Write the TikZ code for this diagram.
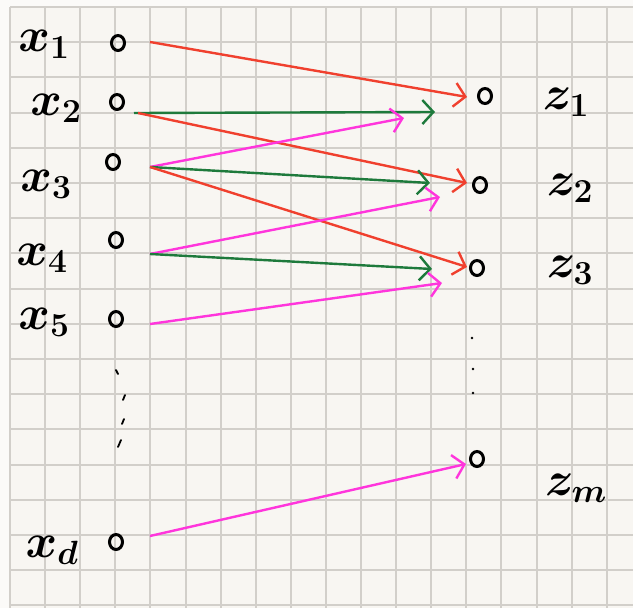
\RequirePackage{fix-cm}
\documentclass[tikz,border=0pt]{standalone}
\usetikzlibrary{arrows.meta,shapes.geometric}
\definecolor{paper}{HTML}{F8F6F2}
\definecolor{margin}{HTML}{FBFAF8}
\definecolor{gridc}{HTML}{D2CFCA}
\definecolor{pred}{HTML}{F0402E}
\definecolor{pgreen}{HTML}{1E7A3C}
\definecolor{pmag}{HTML}{FF35DC}
\begin{document}
\begin{tikzpicture}[x=1pt,y=-1pt,
  unit/.style={ellipse,draw=black,line width=3pt,minimum width=13pt,minimum height=15pt,inner sep=0pt},
  lab/.style={inner sep=0pt,font=\fontsize{48}{54}\selectfont\boldmath},
  gridline/.style={gridc,line width=1.4pt},
  edge/.style={line width=2.4pt,-{Straight Barb[length=11pt,width=24pt,line width=2.4pt]}},
  rededge/.style={edge,pred},
  greenedge/.style={edge,pgreen},
  magedge/.style={edge,pmag},
  dotmark/.style={line width=1.8pt,line cap=round,black}]
\fill[margin] (0,0) rectangle (633,608);
\fill[paper] (10,7) rectangle (633,608);
\useasboundingbox (0,0) rectangle (633,608);
\foreach \k in {0,...,17} {
  \pgfmathsetmacro{\gx}{round(10+35.1*\k)}
  \pgfmathsetmacro{\gy}{round(7+35.2*\k)}
  \draw[gridline] (\gx,7) -- (\gx,608);
  \draw[gridline] (10,\gy) -- (633,\gy);
}
% input units
\node[unit] (x1) at (118,43) {};
\node[unit] (x2) at (117,102) {};
\node[unit] (x3) at (113,162) {};
\node[unit] (x4) at (116,240) {};
\node[unit] (x5) at (116,319) {};
\node[unit] (xd) at (116,542) {};
% output units
\node[unit] (z1) at (485,96) {};
\node[unit] (z2) at (480,185) {};
\node[unit] (z3) at (477,268) {};
\node[unit] (zm) at (477,459) {};
% labels
\node[lab] (lx1) at (44,44) {$x_{1}$};
\node[lab] (lx2) at (56,108) {$x_{2}$};
\node[lab] (lx3) at (46,184) {$x_{3}$};
\node[lab] (lx4) at (42,258) {$x_{4}$};
\node[lab] (lx5) at (44,322) {$x_{5}$};
\node[lab] (lxd) at (52,550) {$x_{d}$};
\node[lab] (lz1) at (566,102) {$z_{1}$};
\node[lab] (lz2) at (570,188) {$z_{2}$};
\node[lab] (lz3) at (570,270) {$z_{3}$};
\node[lab] (lzm) at (576,488) {$z_{m}$};
% ports
\coordinate (x1p) at (150,42);
\coordinate (x2g) at (134,113);
\coordinate (x2r) at (138,113);
\coordinate (x3p) at (150,167);
\coordinate (x4p) at (150,254);
\coordinate (x5p) at (150,324);
\coordinate (xdp) at (150,536);
\coordinate (z1r) at (467,97);
\coordinate (z1g) at (435,112);
\coordinate (z1m) at (404,118);
\coordinate (z2r) at (467,183);
\coordinate (z2g) at (430,183);
\coordinate (z2m) at (440,197);
\coordinate (z3r) at (467,267);
\coordinate (z3g) at (432,269);
\coordinate (z3m) at (442,283);
\coordinate (zmm) at (466,464);
% connectors
\draw[rededge] (x1p) -- (z1r);
\draw[greenedge] (x2g) -- (z1g);
\draw[rededge] (x2r) -- (z2r);
\draw[magedge] (x3p) -- (z1m);
\draw[greenedge] (x3p) -- (z2g);
\draw[rededge] (x3p) -- (z3r);
\draw[magedge] (x4p) -- (z2m);
\draw[greenedge] (x4p) -- (z3g);
\draw[magedge] (x5p) -- (z3m);
\draw[magedge] (xdp) -- (zmm);
% vertical dots
\draw[dotmark] (116,370) -- (118,374);
\draw[dotmark] (125,395) -- (123,400);
\draw[dotmark] (124,419) -- (122,424);
\draw[dotmark] (121,440) -- (118,447);
\fill (472,338) circle (1.3pt);
\fill (473,369) circle (1.3pt);
\fill (473,393) circle (1.3pt);
\end{tikzpicture}
\end{document}
